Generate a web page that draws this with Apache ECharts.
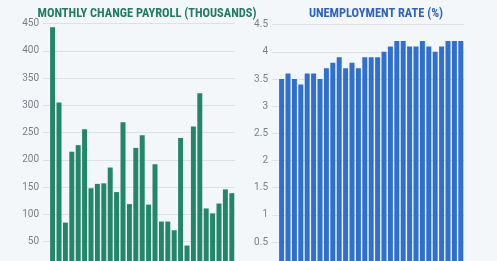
<!DOCTYPE html>
<html><head><meta charset="utf-8">
<script src="https://cdn.jsdelivr.net/npm/echarts@6/dist/echarts.min.js"></script>
<style>html,body{margin:0;padding:0;background:#f4f7fa;}#c{width:497px;height:261px;}</style>
</head><body><div id="c"></div>
<script>
const months = Array.from({length:30}, (_, i) => 'M' + (i + 1));
const payroll = [null, 443, 305, 85, 215, 227, 256, 148, 156, 157, 186, 141, 269, 119, 222, 245, 118, 192, 87, 87, 71, 240, 43, 261, 322, 111, 102, 120, 146, 139];
const unemployment = [null, 3.5, 3.6, 3.5, 3.4, 3.6, 3.6, 3.5, 3.7, 3.8, 3.9, 3.7, 3.8, 3.7, 3.9, 3.9, 3.9, 4.0, 4.1, 4.2, 4.2, 4.1, 4.1, 4.2, 4.1, 4.0, 4.1, 4.2, 4.2, 4.2];
const titleLeft = 'MONTHLY CHANGE PAYROLL (THOUSANDS)';
const titleRight = 'UNEMPLOYMENT RATE (%)';

const chart = echarts.init(document.getElementById('c'), null, {renderer:'canvas'});
const titleFont = "'Roboto Condensed','Liberation Sans Narrow','Roboto',sans-serif";
const axisLabel = {color:'#7a7f86', fontSize:10, fontFamily:'Roboto, sans-serif', margin:4};
const splitLine = {show:true, lineStyle:{color:'#dde1e6', width:1}};
chart.setOption({
  backgroundColor:'#f4f7fa',
  animation:false,
  title:[
    {text:titleLeft, left:142, top:3, textAlign:'center', textStyle:{color:'#1f7c62', fontSize:12.4, fontWeight:'bold', fontFamily:titleFont}},
    {text:titleRight, left:371, top:3, textAlign:'center', textStyle:{color:'#2c63c2', fontSize:12.4, fontWeight:'bold', fontFamily:titleFont}}
  ],
  grid:[
    {left:43, right:262, top:23.5, bottom:-8, outerBoundsMode:'none', containLabel:false},
    {left:272, right:33, top:24.7, bottom:-8.2, outerBoundsMode:'none', containLabel:false}
  ],
  xAxis:[
    {type:'category', gridIndex:0, data:months, axisLine:{show:false}, axisTick:{show:false}, axisLabel:{show:false}},
    {type:'category', gridIndex:1, data:months, axisLine:{show:false}, axisTick:{show:false}, axisLabel:{show:false}}
  ],
  yAxis:[
    {type:'value', gridIndex:0, min:0, max:450, interval:50, axisLabel:axisLabel, splitLine:splitLine, axisLine:{show:false}, axisTick:{show:false}},
    {type:'value', gridIndex:1, min:0, max:4.5, interval:0.5, axisLabel:axisLabel, splitLine:splitLine, axisLine:{show:false}, axisTick:{show:false}}
  ],
  series:[
    {type:'bar', xAxisIndex:0, yAxisIndex:0, data:payroll, barCategoryGap:'22%', itemStyle:{color:'#23866b'}},
    {type:'bar', xAxisIndex:1, yAxisIndex:1, data:unemployment, barCategoryGap:'22%', itemStyle:{color:'#2f6fcf'}}
  ]
});
</script></body></html>
